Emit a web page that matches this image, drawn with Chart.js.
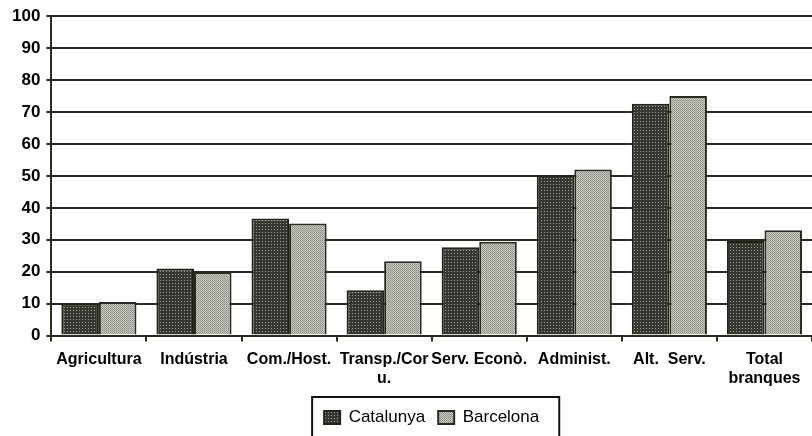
<!DOCTYPE html>
<html>
<head>
<meta charset="utf-8">
<script src="https://cdn.jsdelivr.net/npm/chart.js@4/dist/chart.umd.min.js"></script>
<style>
  html, body { margin: 0; padding: 0; background: #fff; overflow: hidden; }
  #wrap { width: 812px; height: 436px; }
</style>
</head>
<body>
<div id="wrap"><canvas id="c" width="812" height="436"></canvas></div>
<script>
const categories = ["Agricultura", "Indústria", "Com./Host.", ["Transp./Cor", "u."], "Serv. Econò.", "Administ.", "Alt.  Serv.", ["Total", "branques"]];
const catalunya = [10, 21, 36.7, 14.2, 27.7, 50.3, 72.6, 29.6];
const barcelona = [10.5, 19.8, 35.1, 23.3, 29.4, 52.0, 75.0, 33.0];
const seriesNames = ["Catalunya", "Barcelona"];
const yTicks = { min: 0, max: 100, step: 10 };

function makePattern(size, bg, dots) {
  const c = document.createElement('canvas');
  c.width = size; c.height = size;
  const x = c.getContext('2d');
  x.fillStyle = bg; x.fillRect(0, 0, size, size);
  dots.forEach(d => { x.fillStyle = d[2]; x.fillRect(d[0], d[1], 1, 1); });
  return document.getElementById('c').getContext('2d').createPattern(c, 'repeat');
}
const darkPat = makePattern(3, '#363632', [[1, 1, '#a0a098']]);
const lightPat = makePattern(2, '#cacac6', [[0, 0, '#88887f'], [1, 1, '#9c9c96']]);

const lineCol = '#2c2c20';

const legendBox = {
  id: 'legendBox',
  afterDraw(chart) {
    const lg = chart.legend;
    if (!lg || !lg.legendHitBoxes || !lg.legendHitBoxes.length) return;
    const hb = lg.legendHitBoxes;
    const left = hb[0].left - 12;
    const right = hb[hb.length - 1].left + hb[hb.length - 1].width + 20;
    const top = lg.top + 1;
    const ctx = chart.ctx;
    ctx.save();
    ctx.strokeStyle = '#111';
    ctx.lineWidth = 2;
    ctx.strokeRect(left, top, right - left, chart.height - top + 10);
    ctx.restore();
  }
};

new Chart(document.getElementById('c'), {
  type: 'bar',
  data: {
    labels: categories,
    datasets: [
      { label: seriesNames[0], data: catalunya, backgroundColor: darkPat, borderColor: '#222218', borderWidth: 2 },
      { label: seriesNames[1], data: barcelona, backgroundColor: lightPat, borderColor: '#2a2a22', borderWidth: 2 }
    ]
  },
  options: {
    responsive: false,
    animation: false,
    devicePixelRatio: 1,
    layout: { padding: { top: 10, left: 6, right: 0, bottom: 0 } },
    datasets: { bar: { categoryPercentage: 0.79, barPercentage: 1.0 } },
    scales: {
      x: {
        grid: { offset: true, drawOnChartArea: false, drawTicks: true, tickLength: 6, color: lineCol, lineWidth: 2 },
        border: { display: true, color: lineCol, width: 2 },
        ticks: { color: '#000', font: { family: 'Liberation Sans, Arial, sans-serif', size: 16, weight: 'bold' }, padding: 8, maxRotation: 0, autoSkip: false }
      },
      y: {
        min: yTicks.min, max: yTicks.max,
        grid: { color: lineCol, lineWidth: 2, drawTicks: true, tickLength: 5 },
        border: { display: true, color: lineCol, width: 2 },
        ticks: { stepSize: yTicks.step, color: '#000', font: { family: 'Liberation Sans, Arial, sans-serif', size: 17, weight: 'bold' }, padding: 6 }
      }
    },
    plugins: {
      legend: {
        position: 'bottom',
        fullSize: false,
        labels: {
          color: '#000',
          font: { family: 'Liberation Sans, Arial, sans-serif', size: 17 },
          boxWidth: 16, boxHeight: 13, padding: 13
        }
      },
      tooltip: { enabled: false }
    }
  },
  plugins: [legendBox]
});
</script>
</body>
</html>
